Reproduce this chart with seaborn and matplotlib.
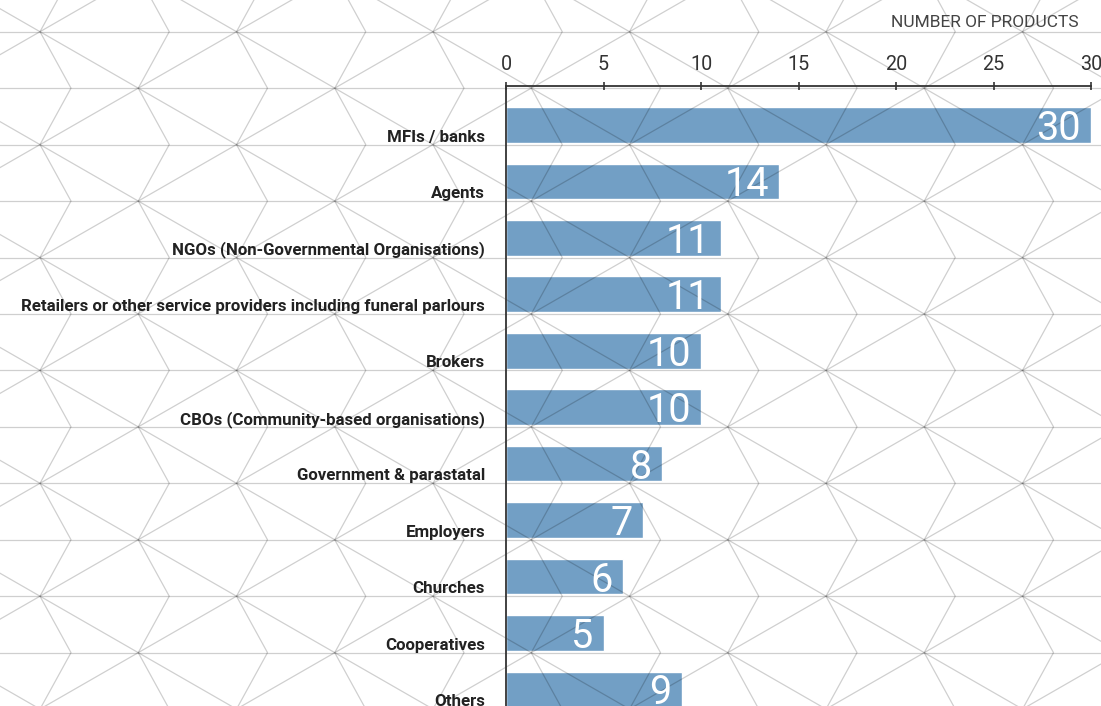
import numpy as np
import matplotlib
matplotlib.use("Agg")
import matplotlib.pyplot as plt
import matplotlib.transforms as mtransforms
from matplotlib.lines import Line2D
import seaborn as sns

# Delivery channels and number of products using each
categories = [
    "MFIs / banks",
    "Agents",
    "NGOs (Non-Governmental Organisations)",
    "Retailers or other service providers including funeral parlours",
    "Brokers",
    "CBOs (Community-based organisations)",
    "Government & parastatal",
    "Employers",
    "Churches",
    "Cooperatives",
    "Others",
]
values = [30, 14, 11, 11, 10, 10, 8, 7, 6, 5, 9]
x_ticks = [0, 5, 10, 15, 20, 25, 30]
axis_title = "NUMBER OF PRODUCTS"

BAR_COLOR = "#729fc5"
INK = "#222222"

sns.set_theme(style="white")
plt.rcParams["font.family"] = ["Roboto", "DejaVu Sans"]

W, H = 1101, 706
fig = plt.figure(figsize=(W / 100, H / 100), dpi=100)
fig.patch.set_facecolor("white")

ax = fig.add_axes([506 / W, 0.0, 585 / W, 620 / H])
ax.set_facecolor("none")

sns.barplot(x=values, y=categories, orient="h", color=BAR_COLOR,
            saturation=1, width=0.632, ax=ax, zorder=1)

ax.set_xlim(0, 30)
ax.set_ylim(10.294, -0.689)
ax.set_xlabel("")
ax.set_ylabel("")

# top axis with ticks
ax.xaxis.tick_top()
ax.set_xticks(x_ticks)
ax.set_xticklabels([str(t) for t in x_ticks])
ax.tick_params(axis="x", direction="inout", length=6, width=1.2, color="#333333",
               pad=5.5, labelsize=14.2, labelcolor="#333333")

for side in ("right", "bottom"):
    ax.spines[side].set_visible(False)
for side in ("top", "left"):
    ax.spines[side].set_color("#333333")
    ax.spines[side].set_linewidth(1.3)

# category labels sit on the bottom edge of their bar
ax.tick_params(axis="y", length=0, pad=15.1, labelsize=12.2, labelcolor=INK)
shift = mtransforms.ScaledTranslation(0, -0.168, fig.dpi_scale_trans)
for lab in ax.get_yticklabels():
    lab.set_fontweight("bold")
    lab.set_verticalalignment("baseline")
    lab.set_transform(lab.get_transform() + shift)

# value labels inside the bar ends
for i, v in enumerate(values):
    tr = mtransforms.offset_copy(ax.transData, fig=fig, x=-10, y=-15, units="dots")
    ax.text(v, i, str(v), transform=tr, ha="right", va="baseline",
            color="white", fontsize=28.5, fontweight="normal", zorder=4)

fig.text(1079 / W, 1 - 27.3 / H, axis_title, ha="right", va="baseline",
         fontsize=12.5, fontweight="normal", color="#444444")

# geometric lattice drawn across the whole canvas
px = mtransforms.Affine2D().scale(1 / W, -1 / H).translate(0, 1) + fig.transFigure
x0, y0 = 40.0, 31.7
a, h, d = 98.25, 56.45, 31.0
rows = np.arange(-2, 15)
line_kw = dict(color="black", alpha=0.19, linewidth=0.9, transform=px,
               clip_on=False, zorder=2)

for j in rows:
    y = y0 + h * j
    ax.add_artist(Line2D([-50, W + 50], [y, y], **line_kw))

t = np.array([rows[0], rows[-1]], dtype=float)
for k in range(-30, 30, 2):
    ax.add_artist(Line2D(x0 + a * (k + t), y0 + h * t, **line_kw))
    ax.add_artist(Line2D(x0 + a * (k - t), y0 + h * t, **line_kw))

for i in range(-2, 14):
    xs = [x0 + a * i + (d if (i + j) % 2 else 0.0) for j in rows]
    ys = [y0 + h * j for j in rows]
    ax.add_artist(Line2D(xs, ys, **line_kw))

fig.savefig("out.png", dpi=100, facecolor="white")
